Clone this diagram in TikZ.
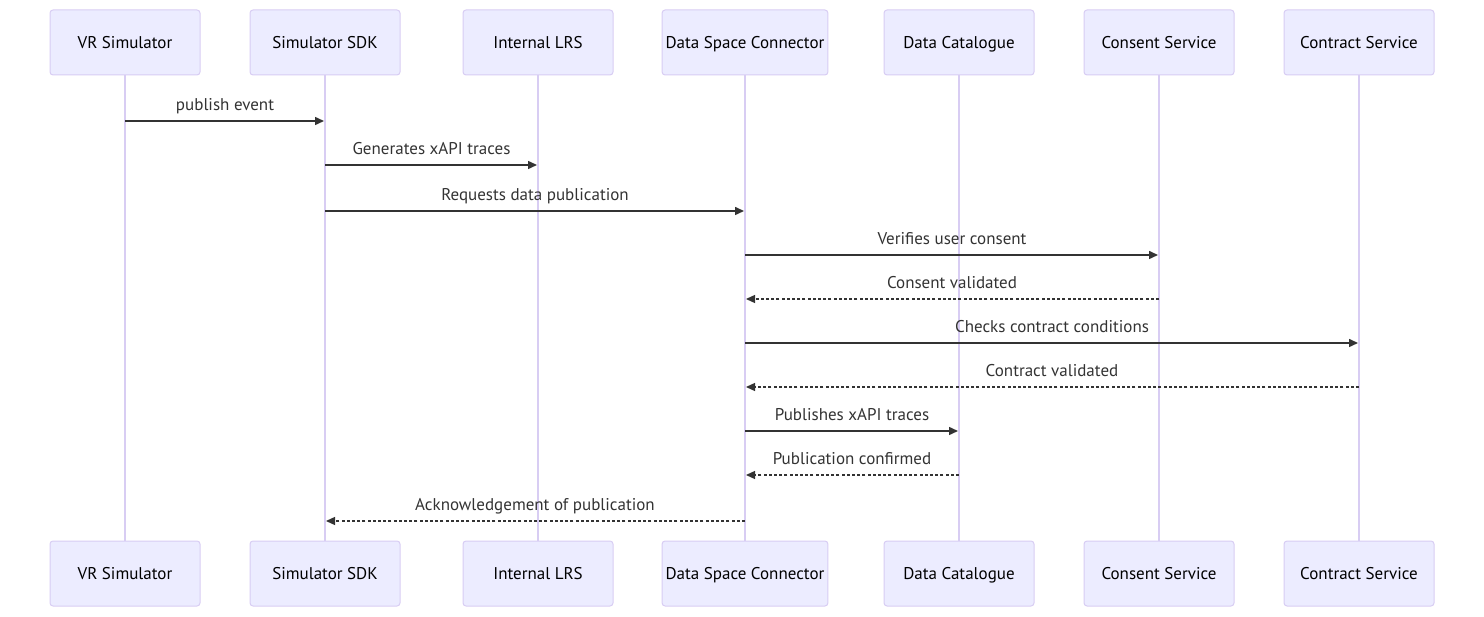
\documentclass[tikz,border=0pt]{standalone}
\usepackage{fontspec}
\setmainfont{PT Sans}
\usepackage{tikz}
\usetikzlibrary{arrows.meta,positioning,calc}

\definecolor{actorfill}{HTML}{ECECFF}
\definecolor{actorline}{HTML}{D8CDF3}
\definecolor{msgcol}{HTML}{333333}

\begin{document}
\begin{tikzpicture}[x=1pt,y=-1pt]
            \tikzset{
              actor/.style={draw=actorline, fill=actorfill, line width=1pt, rounded corners=3pt,
                minimum width=150pt, minimum height=65pt, inner xsep=3.5pt,
                text height=13pt, text depth=1pt,
                font=\fontsize{17}{20}\selectfont, text=black},
              lifeline/.style={draw=actorline, line width=1.6pt},
              msg/.style={draw=msgcol, line width=1.5pt, shorten >=1pt,
                -{Triangle[length=9pt,width=8pt]}},
              reply/.style={msg, line width=1.3pt, dash pattern=on 3pt off 2.2pt},
              msglabel/.style={anchor=base, yshift=10pt, inner sep=0pt,
                font=\fontsize{17}{20}\selectfont, text=msgcol},
            }
            \useasboundingbox (0,0) rectangle (1484,617);
            % participants, top row
            \node[actor] (vr)    at (125,42.5)  {VR Simulator};
            \node[actor] (sdk)   at (325,42.5)  {Simulator SDK};
            \node[actor] (lrs)   at (538,42.5)  {Internal LRS};
            \node[actor] (dsc)   at (745,42.5)  {Data Space Connector};
            \node[actor] (cat)   at (959,42.5)  {Data Catalogue};
            \node[actor] (cons)  at (1159,42.5) {Consent Service};
            \node[actor] (contr) at (1359,42.5) {Contract Service};
            % participants, bottom row
            \node[actor] (vrB)    at (125,573.5)  {VR Simulator};
            \node[actor] (sdkB)   at (325,573.5)  {Simulator SDK};
            \node[actor] (lrsB)   at (538,573.5)  {Internal LRS};
            \node[actor] (dscB)   at (745,573.5)  {Data Space Connector};
            \node[actor] (catB)   at (959,573.5)  {Data Catalogue};
            \node[actor] (consB)  at (1159,573.5) {Consent Service};
            \node[actor] (contrB) at (1359,573.5) {Contract Service};
            \draw[lifeline] (vr) -- (vrB);
            \draw[lifeline] (sdk) -- (sdkB);
            \draw[lifeline] (lrs) -- (lrsB);
            \draw[lifeline] (dsc) -- (dscB);
            \draw[lifeline] (cat) -- (catB);
            \draw[lifeline] (cons) -- (consB);
            \draw[lifeline] (contr) -- (contrB);
            % message rows
            \coordinate (r1) at (0,121);
            \coordinate (r2) at (0,165);
            \coordinate (r3) at (0,211);
            \coordinate (r4) at (0,255);
            \coordinate (r5) at (0,299);
            \coordinate (r6) at (0,343);
            \coordinate (r7) at (0,387);
            \coordinate (r8) at (0,431);
            \coordinate (r9) at (0,475);
            \coordinate (r10) at (0,521);
            \draw[msg] (vr |- r1) -- node[msglabel] {publish event} (sdk |- r1);
            \draw[msg] (sdk |- r2) -- node[msglabel] {Generates xAPI traces} (lrs |- r2);
            \draw[msg] (sdk |- r3) -- node[msglabel] {Requests data publication} (dsc |- r3);
            \draw[msg] (dsc |- r4) -- node[msglabel] {Verifies user consent} (cons |- r4);
            \draw[reply] (cons |- r5) -- node[msglabel] {Consent validated} (dsc |- r5);
            \draw[msg] (dsc |- r6) -- node[msglabel] {Checks contract conditions} (contr |- r6);
            \draw[reply] (contr |- r7) -- node[msglabel] {Contract validated} (dsc |- r7);
            \draw[msg] (dsc |- r8) -- node[msglabel] {Publishes xAPI traces} (cat |- r8);
            \draw[reply] (cat |- r9) -- node[msglabel] {Publication confirmed} (dsc |- r9);
            \draw[reply] (dsc |- r10) -- node[msglabel] {Acknowledgement of publication} (sdk |- r10);
          \end{tikzpicture}
\end{document}
